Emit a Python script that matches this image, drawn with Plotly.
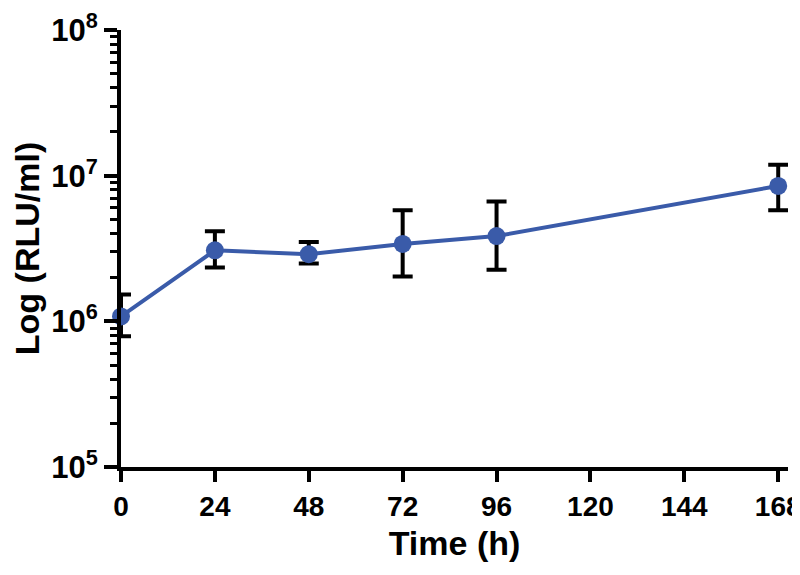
import plotly.graph_objects as go

time_h = [0, 24, 48, 72, 96, 168]
rlu_mean = [1.08e6, 3.07e6, 2.89e6, 3.40e6, 3.85e6, 8.5e6]
rlu_upper = [1.53e6, 4.16e6, 3.50e6, 5.78e6, 6.65e6, 1.19e7]
rlu_lower = [7.9e5, 2.34e6, 2.49e6, 2.03e6, 2.26e6, 5.78e6]

x_ticks = [0, 24, 48, 72, 96, 120, 144, 168]
y_tickvals = [1e5, 1e6, 1e7, 1e8]
y_ticktext = ["10<sup>5</sup>", "10<sup>6</sup>", "10<sup>7</sup>", "10<sup>8</sup>"]

err_plus = [u - m for u, m in zip(rlu_upper, rlu_mean)]
err_minus = [m - l for m, l in zip(rlu_mean, rlu_lower)]

FONT = "Liberation Sans, Arial, sans-serif"
BLUE = "#3A5BA9"

fig = go.Figure()
fig.add_trace(go.Scatter(
    x=time_h, y=rlu_mean, mode="lines+markers",
    line=dict(color=BLUE, width=4),
    marker=dict(color=BLUE, size=18),
    error_y=dict(type="data", symmetric=False, array=err_plus, arrayminus=err_minus,
                 color="black", thickness=4, width=10),
    showlegend=False, cliponaxis=False,
))

fig.update_layout(
    width=800, height=575,
    margin=dict(l=113, r=20, t=22, b=116),
    paper_bgcolor="white", plot_bgcolor="white",
    font=dict(family=FONT, color="black"),
)
fig.update_xaxes(
    range=[0, 170.5], tickvals=x_ticks, ticktext=[f"<b>{v}</b>" for v in x_ticks],
    showgrid=False, zeroline=False, automargin=False,
    showline=True, linecolor="black", linewidth=4,
    ticks="outside", ticklen=11, tickwidth=4, tickcolor="black",
    ticklabeloverflow="allow",
    tickfont=dict(size=28, family=FONT, color="black"),
    title=dict(text="<b>Time (h)</b>", font=dict(size=34, family=FONT), standoff=12),
)
fig.update_yaxes(
    type="log", range=[5, 8], tickvals=y_tickvals, ticktext=[f"<b>{t}</b>" for t in y_ticktext],
    showgrid=False, zeroline=False, automargin=False,
    showline=True, linecolor="black", linewidth=4,
    ticks="outside", ticklen=13, tickwidth=4, tickcolor="black",
    ticklabeloverflow="allow",
    minor=dict(ticks="outside", ticklen=7, tickwidth=3, tickcolor="black", dtick="D1", showgrid=False),
    tickfont=dict(size=31, family=FONT, color="black"),
    title=dict(text="<b>Log (RLU/ml)</b>", font=dict(size=34, family=FONT), standoff=8),
)

fig.write_html("out.html")
